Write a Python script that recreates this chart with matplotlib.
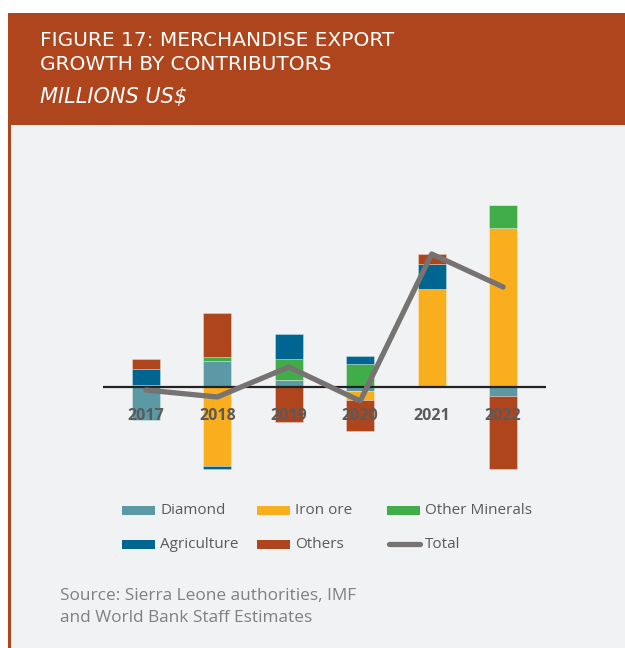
import matplotlib
matplotlib.use("Agg")
import matplotlib.pyplot as plt
from matplotlib.patches import Rectangle
from matplotlib.lines import Line2D
import numpy as np

plt.rcParams['font.family'] = ['Open Sans', 'DejaVu Sans']

# ---- data (millions US$) ----
years = ["2017", "2018", "2019", "2020", "2021", "2022"]
diamond = [-33, 26, 7, -4, 0, -9]
iron_ore = [0, -79, 0, -9, 98, 159]
other_minerals = [2, 4, 21, 23, 0, 23]
agriculture = [16, -3, 25, 8, 25, 0]
others = [10, 44, -35, -31, 10, -73]
total = [-3, -10, 20, -14, 133, 100]

series_names = ["Diamond", "Iron ore", "Other Minerals", "Agriculture", "Others"]
series_values = [diamond, iron_ore, other_minerals, agriculture, others]
series_colors = ["#5B9AA5", "#F9AE1E", "#41AD49", "#006691", "#AE451C"]
total_color = "#767372"

W, H = 625, 648
fig = plt.figure(figsize=(W / 100, H / 100), dpi=100)
fig.patch.set_facecolor("white")


def fx(x):
    return x / W


def fy(y):
    return 1 - y / H


# panel background, left rule and header band
fig.add_artist(Rectangle((fx(8), 0), 1 - fx(8), fy(125), transform=fig.transFigure,
                         facecolor="#F1F2F4", edgecolor="none", zorder=0))
fig.add_artist(Rectangle((fx(8), 0), fx(3), fy(125), transform=fig.transFigure,
                         facecolor="#AE451C", edgecolor="none", zorder=0))
fig.add_artist(Rectangle((fx(8), fy(125)), 1 - fx(8), (125 - 12.5) / H,
                         transform=fig.transFigure, facecolor="#AE451C",
                         edgecolor="none", zorder=0))

head_font = ['DejaVu Sans']
fig.text(fx(40), fy(40), "FIGURE 17: MERCHANDISE EXPORT", color="white",
         fontsize=14.5, family=head_font, va="center", ha="left")
fig.text(fx(40), fy(64.5), "GROWTH BY CONTRIBUTORS", color="white",
         fontsize=14.5, family=head_font, va="center", ha="left")
fig.text(fx(40), fy(97), "MILLIONS US$", color="white", fontsize=15,
         family=head_font, style="italic", fontweight="light",
         va="center", ha="left")

# ---- chart ----
ax = fig.add_axes([fx(103), fy(480), (546 - 103) / W, (480 - 190) / H])
ax.set_facecolor("none")
ax.set_xlim(-0.6, len(years) - 0.4)
ax.set_ylim(-93, 197)
ax.axis("off")

x = np.arange(len(years))
pos_base = np.zeros(len(years))
neg_base = np.zeros(len(years))
for name, vals, col in zip(series_names, series_values, series_colors):
    v = np.array(vals, dtype=float)
    bottoms = np.where(v >= 0, pos_base, neg_base)
    ax.bar(x, v, width=0.39, bottom=bottoms, color=col,
           edgecolor=(1, 1, 1, 0.35), linewidth=0.6, zorder=2)
    pos_base += np.where(v >= 0, v, 0)
    neg_base += np.where(v < 0, v, 0)

ax.axhline(0, color="#222222", linewidth=1.6, zorder=3)
ax.plot(x, total, color=total_color, linewidth=3.8, solid_capstyle="round",
        solid_joinstyle="round", zorder=4)

for xi, yr in zip(x, years):
    ax.text(xi, -29, yr, ha="center", va="center", fontsize=11.5,
            fontweight="bold", color="#5A5A5A", zorder=5)

# ---- legend ----
leg_cols = [122, 257, 387]
leg_rows = [510, 544]
layout = [(0, 0, 0), (1, 1, 0), (2, 2, 0), (3, 0, 1), (4, 1, 1)]
for idx, c, r in layout:
    fig.add_artist(Rectangle((fx(leg_cols[c]), fy(leg_rows[r] + 4.5)), 33 / W, 9 / H,
                             transform=fig.transFigure, facecolor=series_colors[idx],
                             edgecolor="none"))
    fig.text(fx(leg_cols[c] + 38), fy(leg_rows[r]), series_names[idx], fontsize=11,
             color="#5A5A5A", va="center", ha="left")
fig.add_artist(Line2D([fx(leg_cols[2] + 2), fx(leg_cols[2] + 33)],
                      [fy(leg_rows[1]), fy(leg_rows[1])], transform=fig.transFigure,
                      color=total_color, linewidth=3.8, solid_capstyle="round"))
fig.text(fx(leg_cols[2] + 38), fy(leg_rows[1]), "Total", fontsize=11,
         color="#5A5A5A", va="center", ha="left")

fig.text(fx(60), fy(596), "Source: Sierra Leone authorities, IMF", fontsize=12.4,
         color="#808080", va="center", ha="left")
fig.text(fx(60), fy(618), "and World Bank Staff Estimates", fontsize=12.4,
         color="#808080", va="center", ha="left")

fig.savefig("out.png", dpi=100, facecolor=fig.get_facecolor())
